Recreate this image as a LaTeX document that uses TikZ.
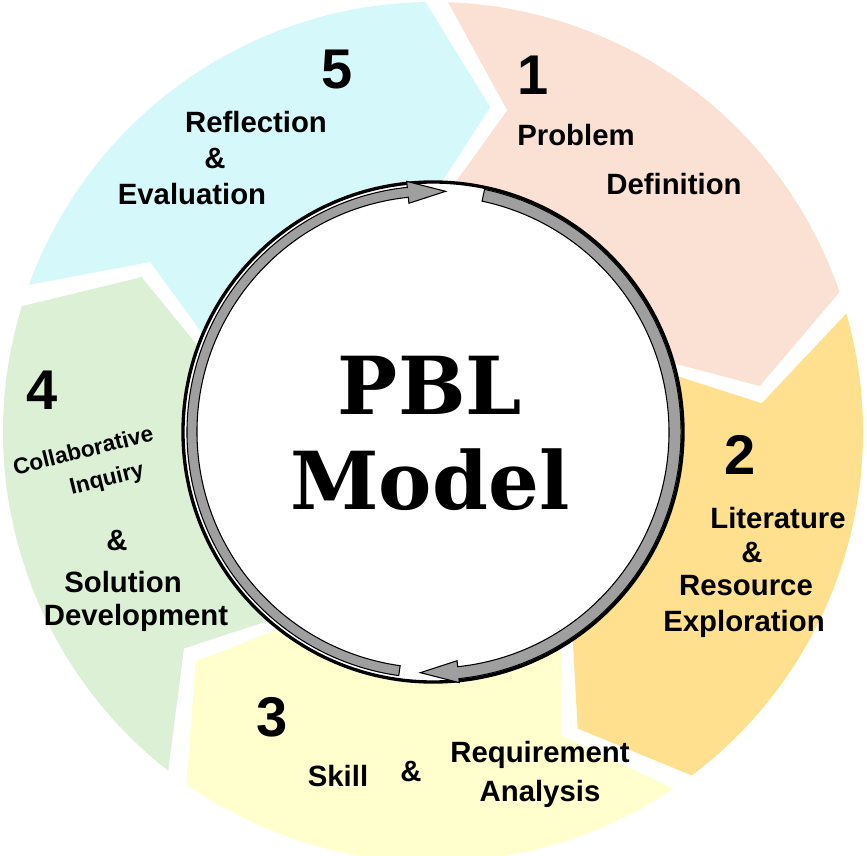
\documentclass[tikz,border=0pt]{standalone}
\usepackage{fontspec}
\setmainfont{Liberation Sans}
\newfontfamily\slab{DejaVu Serif}
\begin{document}
\begin{tikzpicture}[x=0.75pt,y=0.75pt,
  lbl/.style={font=\bfseries\fontsize{22}{24}\selectfont,inner sep=1pt},
  num/.style={font=\bfseries\fontsize{42}{46}\selectfont},
  smalllbl/.style={font=\bfseries\fontsize{17}{19}\selectfont,rotate=14,inner sep=0pt}]
\useasboundingbox (-433,-424) rectangle (434,432);
\definecolor{c1}{HTML}{FBE1D4}
\definecolor{c2}{HTML}{FEE08E}
\definecolor{c3}{HTML}{FFFECC}
\definecolor{c4}{HTML}{DCF0D6}
\definecolor{c5}{HTML}{D5F8FB}
\foreach \s/\c in {88/c1,16/c2,-56/c3,-128/c4,-200/c5}{
  \pgfmathsetmacro\e{\s-69}
  \pgfmathsetmacro\et{\e-11}
  \pgfmathsetmacro\st{\s-11}
  \fill[\c] (\s:430) arc (\s:\e:430) -- (\et:330) -- (\e:230) arc (\e:\s:230) -- (\st:330) -- cycle;
}
\node[circle,draw=black,line width=2.5pt,fill=white,minimum size=500*0.75pt] (c) at (0,0) {};
\fill[gray!75,draw=black,line width=0.8pt] (262:246) arc (262:96:246) -- (96:252) -- (87:241) -- (96:230) -- (96:236) arc (96:262:236) -- cycle;
\fill[gray!75,draw=black,line width=0.8pt] (78:248) arc (78:-84:248) -- (-84:252) -- (-93:241) -- (-84:230) -- (-84:236) arc (-84:78:236) -- cycle;
\node[font=\slab\bfseries\fontsize{60}{64}\selectfont] (p) at (-3,47) {PBL};
\node[font=\slab\bfseries\fontsize{60}{64}\selectfont] (m) at (-3,-48) {Model};
\node[num] (n5) at (-96,362) {5};
\node[lbl] (t5a) at (-177,310) {Reflection};
\node[lbl] (t5b) at (-218,274) {\&};
\node[lbl] (t5c) at (-241,238) {Evaluation};
\node[num] (n1) at (100,357) {1};
\node[lbl] (t1a) at (143,297) {Problem};
\node[lbl] (t1b) at (241,248) {Definition};
\node[num] (n2) at (307,-23) {2};
\node[lbl] (t2a) at (345,-86) {Literature};
\node[lbl] (t2b) at (319,-120) {\&};
\node[lbl] (t2c) at (313,-154) {Resource};
\node[lbl] (t2d) at (311,-192) {Exploration};
\node[num] (n3) at (-161,-285) {3};
\node[lbl] (t3a) at (-95,-344) {Skill};
\node[lbl] (t3b) at (-22,-339) {\&};
\node[lbl] (t3c) at (107,-323) {Requirement};
\node[lbl] (t3d) at (107,-362) {Analysis};
\node[num] (n4) at (-391,42) {4};
\node[smalllbl] (t4a) at (-350,-18) {Collaborative};
\node[smalllbl] (t4b) at (-326,-48) {Inquiry};
\node[lbl] (t4c) at (-316,-108) {\&};
\node[lbl] (t4d) at (-310,-150) {Solution};
\node[lbl] (t4e) at (-297,-186) {Development};
\end{tikzpicture}
\end{document}
